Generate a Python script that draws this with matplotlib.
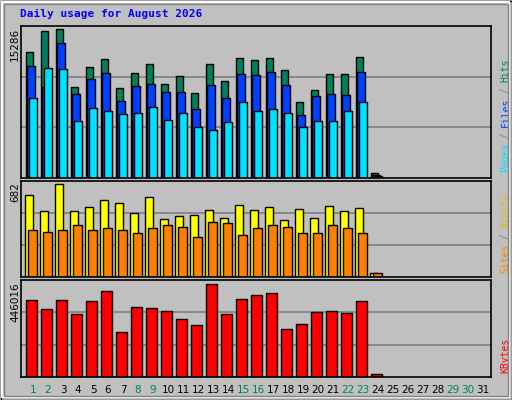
import matplotlib.pyplot as plt
import numpy as np
from matplotlib.patches import Rectangle

days = np.arange(1, 32)
hits = [12910, 15080, 15286, 9300, 11360, 12190, 9190, 10740, 11670, 9610, 10430, 8680,
        11670, 9920, 12290, 12090, 12290, 11050, 7850, 8990, 10640, 10640, 12400, 520]
files = [11470, 9300, 13840, 8570, 10120, 10740, 7950, 9400, 9610, 8780, 8780, 7130,
         9500, 8260, 10640, 10540, 10850, 9500, 6510, 8370, 8570, 8470, 10850, 310]
pages = [8260, 11260, 11160, 5890, 7230, 6920, 6610, 6710, 7330, 5990, 6710, 5270,
         4960, 5780, 7850, 6920, 7130, 6710, 5270, 5890, 5890, 6920, 7850, 200]
visits = [600, 482, 682, 482, 511, 563, 541, 467, 585, 422, 445, 452,
          489, 430, 526, 489, 511, 415, 496, 430, 519, 482, 504, 30]
sites = [348, 333, 348, 385, 348, 363, 348, 326, 356, 378, 370, 296,
         400, 393, 311, 363, 385, 370, 326, 326, 378, 363, 326, 30]
kbytes = [368450, 324800, 368450, 300600, 363600, 412100, 218200, 334500, 329700, 315100,
          276300, 247200, 446016, 300600, 373300, 392700, 402400, 232700, 252100, 310300,
          315100, 305400, 363600, 14500]
weekend_days = [1, 2, 8, 9, 15, 16, 22, 23, 29, 30]

C_HITS, C_FILES, C_PAGES = "#00805C", "#0040FF", "#00E0FF"
C_VISITS, C_SITES, C_KB = "#FFFF00", "#FF8000", "#FF0000"
BG = "#C0C0C0"

W, H = 512, 400
fig = plt.figure(figsize=(W / 100, H / 100), dpi=100)
fig.patch.set_facecolor(BG)


def px_axes(x0, y0, x1, y1):
    return fig.add_axes([x0 / W, 1 - y1 / H, (x1 - x0) / W, (y1 - y0) / H])


def frame(x0, y0, x1, y1, color, lw=1):
    fig.patches.append(Rectangle((x0 / W, 1 - y1 / H), (x1 - x0) / W, (y1 - y0) / H,
                                 transform=fig.transFigure, fill=False, edgecolor=color,
                                 linewidth=lw))


# outer bevel
frame(0.5, 0.5, 511.5, 399.5, "black")
frame(2, 2, 509, 397, "white", 1.5)
frame(4, 4, 508, 396, "#808080", 1.0)

fig.text(20 / W, 1 - 14 / H, "Daily usage for August 2026", color="#0000FF",
         family="DejaVu Sans Mono", weight="bold", fontsize=8, va="center")

d = np.arange(1, len(hits) + 1)
ymax_top, ymax_mid, ymax_bot = 15600, 704, 465400


def setup(ax, ymax, top_label, top_px):
    ax.set_facecolor(BG)
    ax.set_xlim(0.2, 31.53)
    ax.set_ylim(0, ymax)
    for f in (1 / 3, 2 / 3):
        ax.axhline(ymax * f, color="#808080", lw=1.2, zorder=0)
    ax.set_xticks([])
    ax.set_yticks([])
    for s in ax.spines.values():
        s.set_color("black")
        s.set_linewidth(1.2)
    fig.text(15 / W, 1 - top_px / H, top_label, rotation=90, ha="center", va="top",
             fontsize=7.5, family="DejaVu Sans")


def side_label(ax, parts):
    # parts drawn bottom to top, rotated 90
    y = 0.04
    h = ax.get_position().height * H
    step = 5.6 / h
    for txt, col in parts:
        ax.text(1.02, y, txt, transform=ax.transAxes, rotation=90, ha="left",
                va="bottom", color=col, family="DejaVu Sans Mono", fontsize=7)
        y += len(txt) * step


kw = dict(align="edge", edgecolor="black", linewidth=1)

ax1 = px_axes(21, 26, 491, 178)
setup(ax1, ymax_top, "15286", 28)
ax1.bar(d - 0.49, hits, width=0.49, color=C_HITS, **kw)
ax1.bar(d - 0.38, files, width=0.49, color=C_FILES, **kw)
ax1.bar(d - 0.25, pages, width=0.49, color=C_PAGES, **kw)
side_label(ax1, [("Pages", C_PAGES), (" / ", "#808080"), ("Files", C_FILES),
                 (" / ", "#808080"), ("Hits", C_HITS)])

ax2 = px_axes(21, 181, 491, 277)
setup(ax2, ymax_mid, "682", 182)
ax2.bar(d - 0.53, visits, width=0.53, color=C_VISITS, **kw)
ax2.bar(d - 0.33, sites, width=0.6, color=C_SITES, **kw)
side_label(ax2, [("Sites", C_SITES), (" / ", "#808080"), ("Visits", "#E0C000")])

ax3 = px_axes(21, 280, 491, 377)
setup(ax3, ymax_bot, "446016", 282)
ax3.bar(d - 0.47, kbytes, width=0.73, color=C_KB, **kw)
side_label(ax3, [("KBytes", C_KB)])

for day in days:
    ax3.text(day, -0.13, str(day), transform=ax3.get_xaxis_transform(),
             ha="center", va="center", fontsize=7.5,
             color=C_HITS if day in weekend_days else "black")

fig.savefig("out.png", dpi=100, facecolor=BG)
